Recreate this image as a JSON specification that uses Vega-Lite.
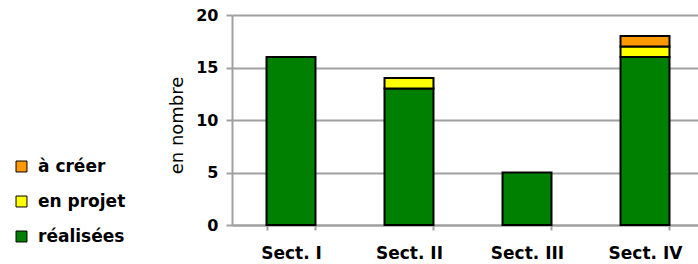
{
  "$schema": "https://vega.github.io/schema/vega-lite/v6.json",
  "autosize": "none",
  "width": 466,
  "height": 210,
  "padding": {"left": 232, "top": 15, "right": 0, "bottom": 39},
  "background": "white",
  "data": {
    "values": [
      {"secteur": "Sect. I", "statut": "réalisées", "rang": 1, "nombre": 16},
      {"secteur": "Sect. II", "statut": "réalisées", "rang": 1, "nombre": 13},
      {"secteur": "Sect. II", "statut": "en projet", "rang": 2, "nombre": 1},
      {"secteur": "Sect. III", "statut": "réalisées", "rang": 1, "nombre": 5},
      {"secteur": "Sect. IV", "statut": "réalisées", "rang": 1, "nombre": 16},
      {"secteur": "Sect. IV", "statut": "en projet", "rang": 2, "nombre": 1},
      {"secteur": "Sect. IV", "statut": "à créer", "rang": 3, "nombre": 1}
    ]
  },
  "mark": {"type": "bar", "stroke": "black", "strokeWidth": 2},
  "encoding": {
    "x": {
      "field": "secteur",
      "type": "nominal",
      "sort": ["Sect. I", "Sect. II", "Sect. III", "Sect. IV"],
      "scale": {"range": [0, 472], "paddingInner": 0.585, "paddingOuter": 0.2925},
      "axis": {
        "title": null,
        "labelAngle": 0,
        "labelFont": "DejaVu Sans",
        "labelFontSize": 17,
        "labelFontWeight": "bold",
        "labelColor": "black",
        "labelPadding": 15,
        "tickBand": "extent",
        "tickSize": 5,
        "tickColor": "#a0a0a0",
        "tickWidth": 2,
        "domainColor": "#a0a0a0",
        "domainWidth": 2,
        "grid": false
      }
    },
    "y": {
      "field": "nombre",
      "type": "quantitative",
      "stack": "zero",
      "scale": {"domain": [0, 20], "nice": false},
      "axis": {
        "values": [0, 5, 10, 15, 20],
        "title": "en nombre",
        "titleFont": "DejaVu Sans",
        "titleFontSize": 18,
        "titleFontWeight": "normal",
        "titleColor": "black",
        "titleAngle": -90,
        "titleBaseline": "alphabetic",
        "titleAlign": "center",
        "titleX": -50,
        "titleY": 110,
        "labelFont": "DejaVu Sans",
        "labelFontSize": 16,
        "labelFontWeight": "bold",
        "labelColor": "black",
        "labelPadding": 8,
        "tickSize": 6,
        "tickColor": "#a0a0a0",
        "tickWidth": 2,
        "domainColor": "#a0a0a0",
        "domainWidth": 2,
        "grid": true,
        "gridColor": "#a0a0a0",
        "gridWidth": 2
      }
    },
    "color": {
      "field": "statut",
      "type": "nominal",
      "scale": {
        "domain": ["à créer", "en projet", "réalisées"],
        "range": ["#ff9900", "#ffff00", "#008000"]
      },
      "legend": {
        "title": null,
        "orient": "none",
        "legendX": -219,
        "legendY": 143,
        "padding": 0,
        "symbolType": "square",
        "symbolSize": 120,
        "symbolStrokeColor": "black",
        "symbolStrokeWidth": 1,
        "symbolOpacity": 1,
        "labelFont": "DejaVu Sans",
        "labelFontSize": 17,
        "labelFontWeight": "bold",
        "labelColor": "black",
        "labelOffset": 8,
        "rowPadding": 17
      }
    },
    "order": {"field": "rang", "type": "quantitative"}
  },
  "config": {"view": {"stroke": null}}
}
